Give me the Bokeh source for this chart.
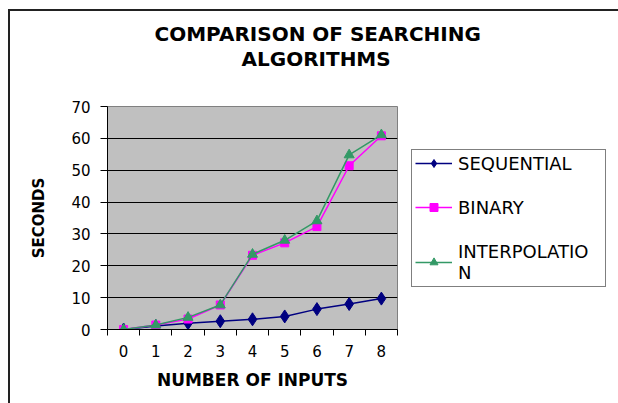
from bokeh.plotting import figure
from bokeh.models import FixedTicker, Legend, LegendItem, Range1d, Title
from bokeh.embed import file_html
from bokeh.resources import INLINE

inputs = [0, 1, 2, 3, 4, 5, 6, 7, 8]
sequential = [0, 1.1, 2.0, 2.6, 3.2, 4.1, 6.4, 8.0, 9.7]
binary = [0, 1.4, 3.3, 7.7, 23.3, 27.2, 32.3, 51.4, 60.8]
interpolation = [0, 1.4, 3.8, 7.7, 23.6, 28.0, 34.1, 54.8, 61.1]
y_ticks = [0, 10, 20, 30, 40, 50, 60, 70]
x_bounds = [-0.5, 0.5, 1.5, 2.5, 3.5, 4.5, 5.5, 6.5, 7.5, 8.5]
title_lines = ["COMPARISON OF SEARCHING", "ALGORITHMS"]

FONT = "DejaVu Sans"

p = figure(frame_width=290, frame_height=223, output_backend="svg", toolbar_location=None,
           x_range=Range1d(-0.5, 8.5), y_range=Range1d(0, 70),
           min_border_left=97, min_border_right=221, min_border_top=95, min_border_bottom=74,
           title=None)
p.styles = {"margin-left": "8px", "margin-top": "9px",
            "border-top": "2px solid #222222", "border-left": "2px solid #222222"}

t2 = Title(text=title_lines[1], align="left", offset=134, standoff=67, vertical_align="top")
t1 = Title(text=title_lines[0], align="left", offset=47, standoff=-65, vertical_align="bottom")
for t in (t2, t1):
    t.text_font = FONT
    t.text_font_size = "20px"
    t.text_font_style = "bold"
    t.text_color = "black"
p.add_layout(t2, "above")
p.add_layout(t1, "above")

p.background_fill_color = "#C0C0C0"
p.border_fill_color = "white"
p.outline_line_color = "#808080"
p.outline_line_width = 1

p.xgrid.visible = False
p.ygrid.grid_line_color = "black"
p.ygrid.grid_line_width = 1
p.ygrid.grid_line_alpha = 1

p.xaxis.ticker = FixedTicker(ticks=inputs, minor_ticks=x_bounds)
p.xaxis.major_tick_out = 0
p.xaxis.major_tick_in = 0
p.xaxis.minor_tick_out = 6
p.xaxis.minor_tick_in = 0
p.xaxis.minor_tick_line_color = "black"
p.xaxis.major_label_standoff = 9
p.xaxis.axis_label = "NUMBER OF INPUTS"
p.xaxis.axis_label_standoff = 10

p.yaxis.ticker = FixedTicker(ticks=y_ticks, minor_ticks=[])
p.yaxis.major_tick_out = 7
p.yaxis.major_tick_in = 0
p.yaxis.minor_tick_out = 0
p.yaxis.major_label_standoff = 10
p.yaxis.axis_label = "SECONDS"
p.yaxis.axis_label_standoff = 20

for ax in (p.xaxis[0], p.yaxis[0]):
    ax.axis_line_color = "black"
    ax.major_tick_line_color = "black"
    ax.major_label_text_font = FONT
    ax.major_label_text_font_size = "15px"
    ax.major_label_text_color = "black"
    ax.axis_label_text_font = FONT
    ax.axis_label_text_font_style = "bold"
    ax.axis_label_text_color = "black"
p.xaxis.axis_label_text_font_size = "17px"
p.yaxis.axis_label_text_font_size = "15px"

l1 = p.line(inputs, sequential, line_color="#000080", line_width=1.5)
m1 = p.scatter(inputs, sequential, marker="diamond", size=13,
               fill_color="#000080", line_color="#000080")
l2 = p.line(inputs, binary, line_color="#FF00FF", line_width=1.5)
m2 = p.scatter(inputs, binary, marker="square", size=8, fill_color="#FF00FF", line_color="#FF00FF")
l3 = p.line(inputs, interpolation, line_color="#339966", line_width=1.5)
m3 = p.scatter(inputs, interpolation, marker="triangle", size=10, fill_color="#339966", line_color="#339966")

legend = Legend(items=[
    LegendItem(label="SEQUENTIAL", renderers=[l1, m1]),
    LegendItem(label="BINARY", renderers=[l2, m2]),
    LegendItem(label="INTERPOLATIO\nN", renderers=[l3, m3]),
], location="center_left")
legend.label_text_font = FONT
legend.label_text_font_size = "18px"
legend.label_text_color = "black"
legend.glyph_width = 37
legend.label_standoff = 6
legend.label_width = 144
legend.spacing = 23
legend.padding = 3
legend.margin = 14
legend.border_line_color = "black"
legend.border_line_width = 1
legend.background_fill_color = "white"
legend.background_fill_alpha = 1
p.add_layout(legend, "right")

open("out.html", "w").write(file_html(p, INLINE))
